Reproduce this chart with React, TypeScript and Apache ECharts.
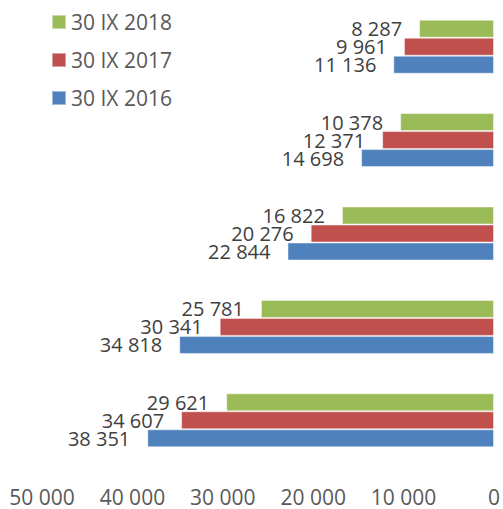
import React, { useEffect, useRef } from "react";
import * as echarts from "echarts";

// categories listed bottom → top
const categories = ["5", "4", "3", "2", "1"];
const seriesNames = ["30 IX 2018", "30 IX 2017", "30 IX 2016"];
const values2018 = [29621, 25781, 16822, 10378, 8287];
const values2017 = [34607, 30341, 20276, 12371, 9961];
const values2016 = [38351, 34818, 22844, 14698, 11136];
const colors = ["#9BBB59", "#C0504D", "#4F81BD"];

const FONT = "'Open Sans', sans-serif";
const fmt = (v: number) => String(Math.round(v)).replace(/\B(?=(\d{3})+(?!\d))/g, " ");

export default function App() {
  const ref = useRef<HTMLDivElement>(null);
  useEffect(() => {
    const chart = echarts.init(ref.current!, null, { renderer: "svg" });
    const dataSets = [values2018, values2017, values2016];
    chart.setOption({
      animation: false,
      textStyle: { fontFamily: FONT },
      legend: {
        orient: "vertical",
        left: 51,
        top: 10,
        padding: 0,
        data: seriesNames,
        icon: "rect",
        itemWidth: 14,
        itemHeight: 14,
        itemGap: 14,
        textStyle: { fontSize: 21, lineHeight: 24, color: "#595959", fontFamily: FONT },
      },
      grid: { left: 42, right: 5, top: -6, bottom: 42, containLabel: false },
      xAxis: {
        type: "value",
        inverse: true,
        min: 0,
        max: 50000,
        interval: 10000,
        splitLine: { show: false },
        axisLine: { show: false },
        axisTick: { show: false },
        axisLabel: {
          fontSize: 21,
          color: "#595959",
          margin: 19,
          fontFamily: FONT,
          formatter: (v: number) => fmt(v),
        },
      },
      yAxis: {
        type: "category",
        data: categories,
        position: "right",
        axisLine: { show: false },
        axisTick: { show: false },
        axisLabel: { show: false },
        splitLine: { show: false },
      },
      series: seriesNames.map((name, i) => ({
        name,
        type: "bar",
        data: dataSets[i],
        barWidth: 18,
        barGap: "0%",
        itemStyle: { color: colors[i], borderColor: "rgba(255,255,255,0.45)", borderWidth: 1 },
        label: {
          show: true,
          position: "left",
          distance: 17,
          fontSize: 20,
          lineHeight: 18,
          color: "#404040",
          fontFamily: FONT,
          formatter: (p: any) => fmt(p.value),
        },
      })),
    });
    return () => chart.dispose();
  }, []);
  return <div ref={ref} style={{ width: 503, height: 509, position: "absolute", left: 0, top: 0 }} />;
}
